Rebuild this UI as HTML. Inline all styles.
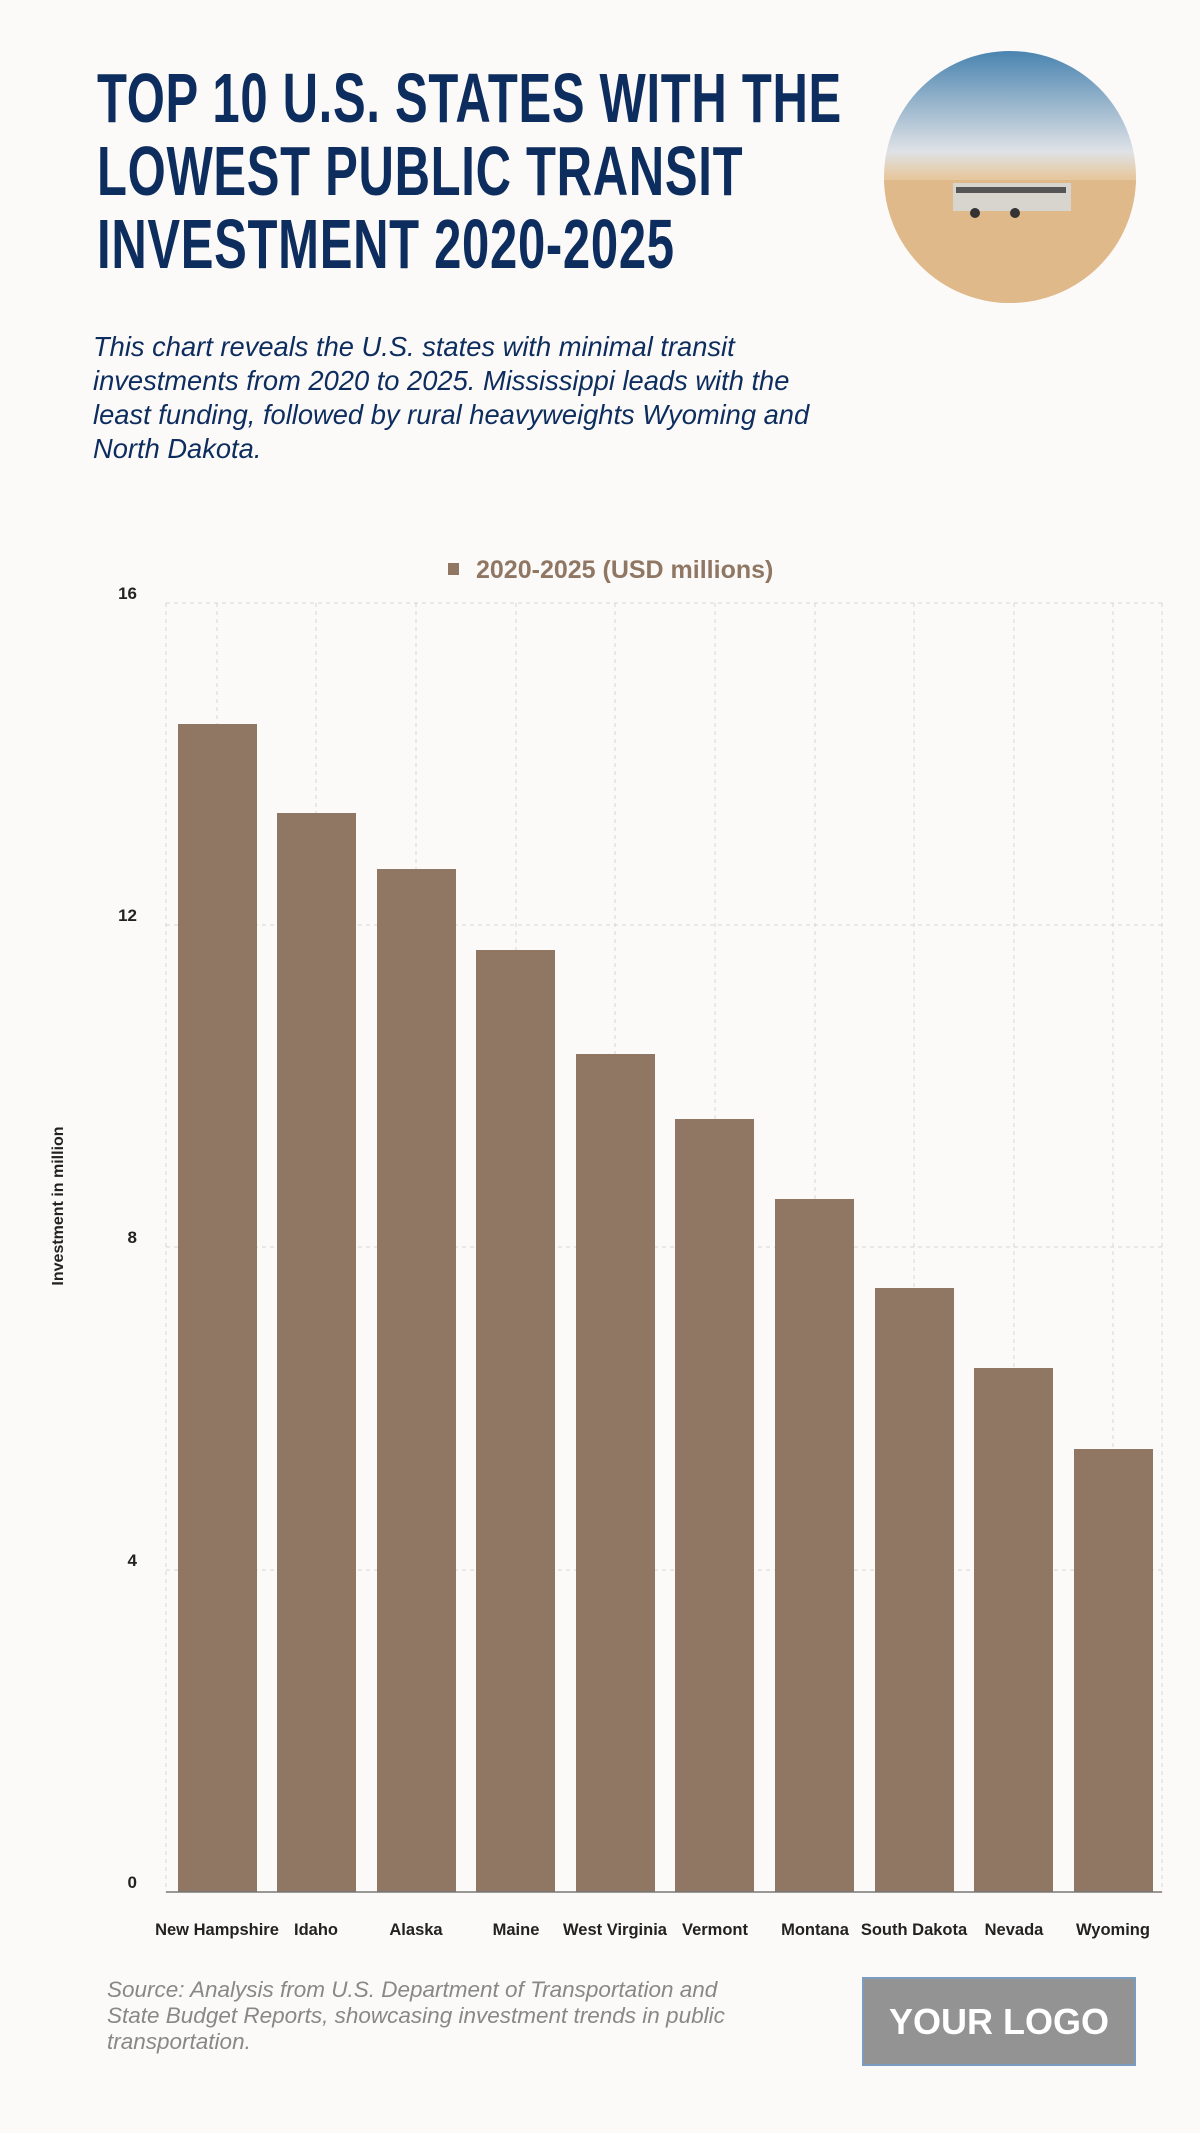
<!DOCTYPE html>
<html><head><meta charset="utf-8"><style>
body{margin:0;background:#fcfaf8;width:1200px;height:2133px;overflow:hidden;font-family:"Liberation Sans",sans-serif;position:relative}
.t{position:absolute;left:97px;top:62px;font-weight:bold;color:#0d2d5e;font-size:70px;line-height:73px;transform:scaleX(0.70);transform-origin:0 0;white-space:nowrap;letter-spacing:1px}
.s{position:absolute;left:93px;top:330px;color:#0d2d5e;font-style:italic;font-size:27.3px;line-height:34px;white-space:nowrap}
.src{position:absolute;left:107px;top:1977px;color:#888;font-style:italic;font-size:22.5px;line-height:26px;white-space:nowrap}
.logo{position:absolute;left:862px;top:1977px;width:270px;height:85px;background:#939393;border:2px solid #7a9cc0;color:#fff;font-weight:bold;font-size:36px;text-align:center;line-height:85px}
</style></head><body>
<div class="t">TOP 10 U.S. STATES WITH THE<br>LOWEST PUBLIC TRANSIT<br>INVESTMENT 2020-2025</div>
<svg style="position:absolute;left:0;top:0" width="1200" height="2133">
<defs><linearGradient id="sk" x1="0" y1="0" x2="0" y2="1">
<stop offset="0" stop-color="#4a84b0"/><stop offset="0.4" stop-color="#dfe2e6"/><stop offset="0.5" stop-color="#e6c8a0"/><stop offset="1" stop-color="#e2b785"/></linearGradient>
<clipPath id="c"><circle cx="1010" cy="177" r="126"/></clipPath></defs>
<circle cx="1010" cy="177" r="126" fill="url(#sk)"/>
<g clip-path="url(#c)"><rect x="884" y="180" width="260" height="130" fill="#e0b98a"/>
<rect x="953" y="183" width="118" height="28" fill="#d8d4ce"/><rect x="956" y="187" width="110" height="6" fill="#555"/>
<circle cx="975" cy="213" r="5" fill="#333"/><circle cx="1015" cy="213" r="5" fill="#333"/></g>
<g stroke="#d6d6d6" stroke-dasharray="4,4" stroke-width="1">
<line x1="166" y1="603" x2="1162" y2="603"/><line x1="166" y1="925" x2="1162" y2="925"/><line x1="166" y1="1247" x2="1162" y2="1247"/><line x1="166" y1="1570" x2="1162" y2="1570"/>
<line x1="166" y1="603" x2="166" y2="1892"/><line x1="1162" y1="603" x2="1162" y2="1892"/>
<line x1="217" y1="603" x2="217" y2="1892"/><line x1="316" y1="603" x2="316" y2="1892"/><line x1="416" y1="603" x2="416" y2="1892"/><line x1="516" y1="603" x2="516" y2="1892"/><line x1="615" y1="603" x2="615" y2="1892"/><line x1="715" y1="603" x2="715" y2="1892"/><line x1="815" y1="603" x2="815" y2="1892"/><line x1="914" y1="603" x2="914" y2="1892"/><line x1="1014" y1="603" x2="1014" y2="1892"/><line x1="1113" y1="603" x2="1113" y2="1892"/>
</g>
<g fill="#8f7764">
<rect x="178" y="724" width="79" height="1168"/>
<rect x="277" y="813" width="79" height="1079"/>
<rect x="377" y="869" width="79" height="1023"/>
<rect x="476" y="950" width="79" height="942"/>
<rect x="576" y="1054" width="79" height="838"/>
<rect x="675" y="1119" width="79" height="773"/>
<rect x="775" y="1199" width="79" height="693"/>
<rect x="875" y="1288" width="79" height="604"/>
<rect x="974" y="1368" width="79" height="524"/>
<rect x="1074" y="1449" width="79" height="443"/>
</g>
<line x1="166" y1="1892" x2="1162" y2="1892" stroke="#777" stroke-width="1.5"/>
<rect x="448" y="563" width="11" height="12" fill="#8f7764"/>
<text x="476" y="578" font-size="25" font-weight="bold" fill="#8f7764">2020-2025 (USD millions)</text>
<g font-size="17" font-weight="bold" fill="#222" text-anchor="end">
<text x="137" y="599">16</text><text x="137" y="921">12</text><text x="137" y="1243">8</text><text x="137" y="1566">4</text><text x="137" y="1888">0</text></g>
<text transform="translate(63,1206) rotate(-90)" font-size="16" font-weight="bold" fill="#222" text-anchor="middle">Investment in million</text>
<g font-size="16.5" font-weight="bold" fill="#222" text-anchor="middle">
<text x="217" y="1935">New Hampshire</text><text x="316" y="1935">Idaho</text><text x="416" y="1935">Alaska</text><text x="516" y="1935">Maine</text><text x="615" y="1935">West Virginia</text><text x="715" y="1935">Vermont</text><text x="815" y="1935">Montana</text><text x="914" y="1935">South Dakota</text><text x="1014" y="1935">Nevada</text><text x="1113" y="1935">Wyoming</text></g>
</svg>
<div class="s">This chart reveals the U.S. states with minimal transit<br>investments from 2020 to 2025. Mississippi leads with the<br>least funding, followed by rural heavyweights Wyoming and<br>North Dakota.</div>
<div class="src">Source: Analysis from U.S. Department of Transportation and<br>State Budget Reports, showcasing investment trends in public<br>transportation.</div>
<div class="logo">YOUR LOGO</div>
</body></html>
